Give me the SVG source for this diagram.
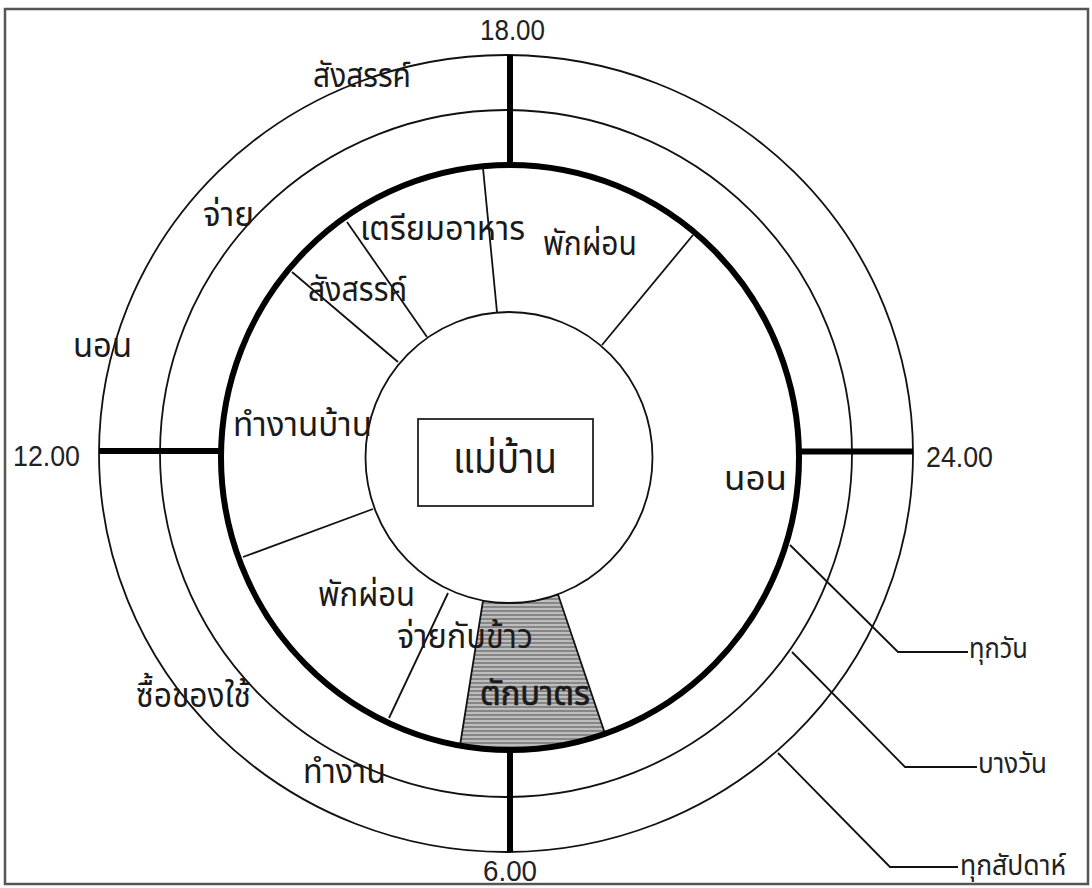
<svg xmlns="http://www.w3.org/2000/svg" width="1092" height="888" viewBox="0 0 1092 888">
<style>
  .thin{fill:none;stroke:#111;stroke-width:1.8}
  .thick{fill:none;stroke:#000;stroke-width:6}
  .radial{stroke:#000;stroke-width:6;fill:none}
  .div{stroke:#111;stroke-width:1.8;fill:none}
  .num{font-family:"Liberation Sans",Arial,sans-serif;font-size:29px;fill:#222}
  .th{font-family:"Noto Sans Thai","Noto Sans","DejaVu Sans",sans-serif;font-size:34px;fill:#1a1a1a}
  .lg{font-family:"Noto Sans Thai","Noto Sans","DejaVu Sans",sans-serif;font-size:29px;fill:#222}
</style>
<defs>
  <pattern id="hatch" width="8" height="4" patternUnits="userSpaceOnUse">
    <rect width="8" height="4" fill="#bdbdbd"/>
    <rect y="2" width="8" height="2" fill="#868686"/>
  </pattern>
</defs>
<rect x="0" y="0" width="1092" height="888" fill="#fff"/>
<rect id="frame" x="5" y="9" width="1083" height="875" fill="none" stroke="#555" stroke-width="2.5"/>

<g id="rings">
  <ellipse id="ring-weekly" class="thin" cx="506" cy="453.5" rx="407" ry="398.5"/>
  <ellipse id="ring-someday" class="thin" cx="506" cy="453.5" rx="346" ry="343.5"/>
  <path id="seg-alms" d="M483,600.6 L460,745.6 A289,292.5 0 0 0 605,733.7 L558,594.3 A143.5,145.5 0 0 1 483,600.6 Z" fill="url(#hatch)" stroke="#111" stroke-width="1.8"/>
  <ellipse id="ring-daily" class="thick" cx="510" cy="457.5" rx="289" ry="292.5"/>
  <ellipse id="center" cx="509" cy="457.5" rx="143.5" ry="145.5" fill="#fff" stroke="#111" stroke-width="1.8"/>
  <rect id="center-box" x="418" y="419" width="175" height="87" fill="#fff" stroke="#222" stroke-width="1.8"/>
</g>

<g id="connectors">
  <line class="radial" x1="510" y1="55" x2="510" y2="163"/>
  <line class="radial" x1="510" y1="750" x2="510" y2="852"/>
  <line class="radial" x1="99" y1="451" x2="221" y2="451"/>
  <line class="radial" x1="799" y1="451.5" x2="913" y2="451.5"/>
  <line class="div" x1="483" y1="168" x2="497" y2="312"/>
  <line class="div" x1="693" y1="235" x2="602" y2="345"/>
  <line class="div" x1="347" y1="222" x2="427" y2="337"/>
  <line class="div" x1="292" y1="272" x2="398" y2="362"/>
  <line class="div" x1="243" y1="557" x2="373" y2="509"/>
  <line class="div" x1="448" y1="593" x2="389" y2="718"/>
  <polyline class="div" points="790,545 898,652 968,652"/>
  <polyline class="div" points="792,652 905,767 977,767"/>
  <polyline class="div" points="778,753 890,867 958,867"/>
</g>

<g id="times">
  <text id="t18" class="num" x="480" y="40" textLength="65" lengthAdjust="spacingAndGlyphs">18.00</text>
  <text id="t12" class="num" x="13" y="466" textLength="67" lengthAdjust="spacingAndGlyphs">12.00</text>
  <text id="t24" class="num" x="926" y="467" textLength="67" lengthAdjust="spacingAndGlyphs">24.00</text>
  <text id="t6" class="num" x="483" y="881" textLength="54" lengthAdjust="spacingAndGlyphs">6.00</text>
</g>

<g id="labels">
  <text id="l-social-out" class="th" x="313" y="87" textLength="98" lengthAdjust="spacingAndGlyphs">สังสรรค์</text>
  <text id="l-pay" class="th" x="203" y="226" textLength="51" lengthAdjust="spacingAndGlyphs">จ่าย</text>
  <text id="l-sleep-l" class="th" x="73" y="357" textLength="59" lengthAdjust="spacingAndGlyphs">นอน</text>
  <text id="l-cook" class="th" x="360" y="240" textLength="165" lengthAdjust="spacingAndGlyphs">เตรียมอาหาร</text>
  <text id="l-rest-top" class="th" x="543" y="255" textLength="94" lengthAdjust="spacingAndGlyphs">พักผ่อน</text>
  <text id="l-social-in" class="th" x="308" y="301" textLength="99" lengthAdjust="spacingAndGlyphs">สังสรรค์</text>
  <text id="l-housework" class="th" x="233" y="436" textLength="139" lengthAdjust="spacingAndGlyphs">ทำงานบ้าน</text>
  <text id="l-housewife" class="th" x="453" y="473" style="font-size:42px" textLength="104" lengthAdjust="spacingAndGlyphs">แม่บ้าน</text>
  <text id="l-sleep-r" class="th" x="724" y="490" textLength="63" lengthAdjust="spacingAndGlyphs">นอน</text>
  <text id="l-rest-low" class="th" x="318" y="606" textLength="97" lengthAdjust="spacingAndGlyphs">พักผ่อน</text>
  <text id="l-spend-food" class="th" x="397" y="648" textLength="136" lengthAdjust="spacingAndGlyphs">จ่ายกับข้าว</text>
  <text id="l-alms" class="th" x="480" y="705" style="stroke:#1a1a1a;stroke-width:0.7" textLength="110" lengthAdjust="spacingAndGlyphs">ตักบาตร</text>
  <text id="l-shop" class="th" x="136" y="707" textLength="115" lengthAdjust="spacingAndGlyphs">ซื้อของใช้</text>
  <text id="l-work" class="th" x="303" y="783" textLength="83" lengthAdjust="spacingAndGlyphs">ทำงาน</text>
</g>

<g id="legend">
  <text id="lg-daily" class="lg" x="969" y="658" textLength="59" lengthAdjust="spacingAndGlyphs">ทุกวัน</text>
  <text id="lg-some" class="lg" x="978" y="773" textLength="69" lengthAdjust="spacingAndGlyphs">บางวัน</text>
  <text id="lg-weekly" class="lg" x="960" y="875" textLength="106" lengthAdjust="spacingAndGlyphs">ทุกสัปดาห์</text>
</g>
</svg>
